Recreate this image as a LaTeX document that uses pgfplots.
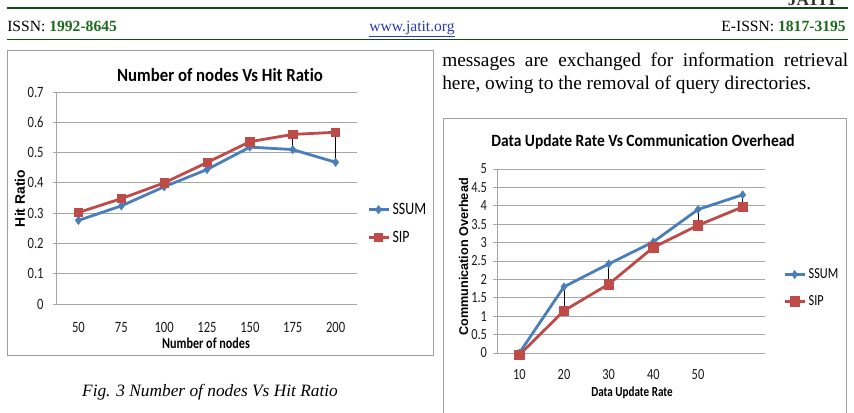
\documentclass[border=0pt]{standalone}
\usepackage{fontspec}
\usepackage{pgfplots}
\usepackage{pgfplotstable}
\pgfplotsset{compat=1.18}
\setmainfont{Liberation Serif}
\newfontfamily\calN[FakeStretch=0.8, Ligatures=NoCommon]{Carlito}
\newfontfamily\calT[FakeStretch=0.9, Ligatures=NoCommon]{Carlito}
\newfontfamily\arl{Liberation Sans}

\definecolor{ssum}{HTML}{4A7EBB}
\definecolor{sip}{HTML}{BE4B48}
\definecolor{gridc}{HTML}{A6A6A6}
\definecolor{framec}{HTML}{A0A0A0}
\definecolor{hdrgreen}{HTML}{1C6B1C}
\definecolor{rulegreen}{HTML}{124A12}
\definecolor{linkblue}{HTML}{2A3CB0}

% Hit ratio against number of nodes
\pgfplotstableread{
x ssum sip
0 0.276 0.302
1 0.324 0.348
2 0.387 0.400
3 0.444 0.467
4 0.518 0.536
5 0.510 0.560
6 0.468 0.567
}\hitdata

% Communication overhead against data update rate
\pgfplotstableread{
x ssum sip
0 0.00 -0.05
1 1.80 1.15
2 2.42 1.87
3 3.02 2.87
4 3.90 3.47
5 4.30 3.97
}\ovhdata

\pgfplotsset{
  excelline/.style={
    scale only axis,
    clip=false,
    axis lines=left,
    axis line style={-, gridc, line width=0.75pt},
    ymajorgrids,
    grid style={gridc, line width=0.75pt},
    xtick style={draw=none},
    ytick style={gridc, line width=0.75pt},
    tick align=outside,
    major tick length=3pt,
    /pgf/number format/assume math mode=true,
    every tick label/.append style={text=black!90},
    legend cell align=left,
    legend image code/.code={\draw[##1, mark repeat=2, mark phase=2]
      plot coordinates {(0pt,0pt) (7.5pt,0pt) (15pt,0pt)};},
  },
  ssumline/.style={ssum, line width=2.1pt, mark=diamond*,
    mark options={solid, line width=0.4pt, fill=ssum}},
  sipline/.style={sip, line width=2.1pt, mark=square*,
    mark options={solid, line width=0.4pt, fill=sip}},
  hilo/.style={forget plot, draw=none,
    error bars/.cd, y dir=minus, y explicit, error mark=none,
    error bar style={draw=black, line width=0.6pt, solid}},
}

\begin{document}
\begin{tikzpicture}
% page area: 854 x 412 px at 0.75pt per px, top-left at the origin
\useasboundingbox (0pt,0pt) rectangle (640.5pt,-309pt);
\clip (0pt,0pt) rectangle (640.5pt,-309pt);

\begin{scope}[x=0.75pt, y=-0.75pt]
% page header
\node[anchor=base east, inner sep=0pt, font=\bfseries\fontsize{13}{15}\selectfont, text=black!80] at (838,5) {JATIT};
\draw[rulegreen, line width=2.2pt] (7,8) -- (848,8);
\node[anchor=base west, inner sep=0pt, font=\fontsize{11.7}{14}\selectfont] at (7,31)
  {ISSN: \textcolor{hdrgreen}{\bfseries 1992-8645}};
\node[anchor=base, inner sep=0pt, font=\fontsize{11.7}{14}\selectfont, text=linkblue] at (412,31)
  {\underline{www.jatit.org}};
\node[anchor=base east, inner sep=0pt, font=\fontsize{11.7}{14}\selectfont] at (846,31)
  {E-ISSN: \textcolor{hdrgreen}{\bfseries 1817-3195}};
\draw[rulegreen, line width=0.9pt] (7,39.5) -- (848,39.5);

% body text and caption
\node[anchor=base west, inner sep=0pt, font=\fontsize{14.5}{17}\selectfont] at (442,66.5)
  {\makebox[304.5pt][s]{messages are exchanged for information retrieval}};
\node[anchor=base west, inner sep=0pt, font=\fontsize{14.5}{17}\selectfont] at (442,89)
  {here, owing to the removal of query directories.};
\node[anchor=base, inner sep=0pt, font=\itshape\fontsize{13}{15}\selectfont] at (210,396)
  {Fig. 3 Number of nodes Vs Hit Ratio};

% chart frames
\draw[framec, line width=0.75pt] (7,50) rectangle (433,355);
\draw[framec, line width=0.75pt] (443,118) rectangle (846,440);

% chart titles and axis labels
\node[anchor=base, inner sep=0pt, font=\calT\bfseries\fontsize{14}{16}\selectfont] at (220,81.7)
  {Number of nodes Vs Hit Ratio};
\node[anchor=base, inner sep=0pt, font=\calN\bfseries\fontsize{11.4}{13}\selectfont] at (206,348)
  {Number of nodes};
\node[anchor=base, rotate=90, inner sep=0pt, font=\arl\bfseries\fontsize{10.4}{12}\selectfont] at (25,198.5)
  {Hit Ratio};
\node[anchor=base, inner sep=0pt, font=\calT\bfseries\fontsize{12.9}{15}\selectfont] at (643,146.5)
  {Data Update Rate Vs Communication Overhead};
\node[anchor=base, inner sep=0pt, font=\calN\bfseries\fontsize{10.4}{12}\selectfont] at (632,396)
  {Data Update Rate};
\node[anchor=base, rotate=90, inner sep=0pt, font=\arl\bfseries\fontsize{9.5}{11}\selectfont] at (468,257)
  {Communication Overhead};
\end{scope}

% left chart: plot area from (57,304) px, 300 x 212 px
\begin{axis}[excelline,
  at={(42.75pt,-228pt)}, anchor=south west,
  width=225pt, height=159pt,
  xmin=-0.5, xmax=6.5, ymin=0, ymax=0.7,
  xtick={0,...,6}, xticklabels={50,75,100,125,150,175,200},
  ytick={0,0.1,...,0.7},
  yticklabel style={xshift=-3.5pt},
  xticklabel style={yshift=-7pt},
  every tick label/.append style={font=\calN\fontsize{11.8}{13}\selectfont},
  legend style={draw=none, fill=none, at={(1.033,0.49)}, anchor=north west,
    inner sep=0pt, row sep=7pt, font=\calN\fontsize{13}{14}\selectfont},
]
\addplot[ssumline, mark size=3.1pt] table[x=x, y=ssum]{\hitdata};
\addplot[sipline, mark size=3.1pt] table[x=x, y=sip]{\hitdata};
\addplot[hilo] table[x=x, y=sip, y error expr=\thisrow{sip}-\thisrow{ssum}]{\hitdata};
\legend{SSUM,SIP}
\end{axis}

% right chart: plot area from (497,353) px, 268 x 184 px
\begin{axis}[excelline,
  at={(372.75pt,-264.75pt)}, anchor=south west,
  width=201pt, height=138pt,
  xmin=-0.5, xmax=5.5, ymin=0, ymax=5,
  xtick={0,...,4}, xticklabels={10,20,30,40,50},
  ytick={0,0.5,...,5},
  yticklabel style={xshift=-1pt},
  xticklabel style={yshift=-6pt},
  every tick label/.append style={font=\calN\fontsize{11.6}{13}\selectfont},
  legend style={draw=none, fill=none, at={(1.067,0.475)}, anchor=north west,
    inner sep=0pt, row sep=7pt, font=\calN\fontsize{11.5}{12}\selectfont},
]
\addplot[ssumline, mark size=3pt] table[x=x, y=ssum]{\ovhdata};
\addplot[sipline, mark size=3.5pt] table[x=x, y=sip]{\ovhdata};
\addplot[hilo] table[x=x, y=ssum, y error expr=\thisrow{ssum}-\thisrow{sip}]{\ovhdata};
\legend{SSUM,SIP}
\end{axis}
\end{tikzpicture}
\end{document}
